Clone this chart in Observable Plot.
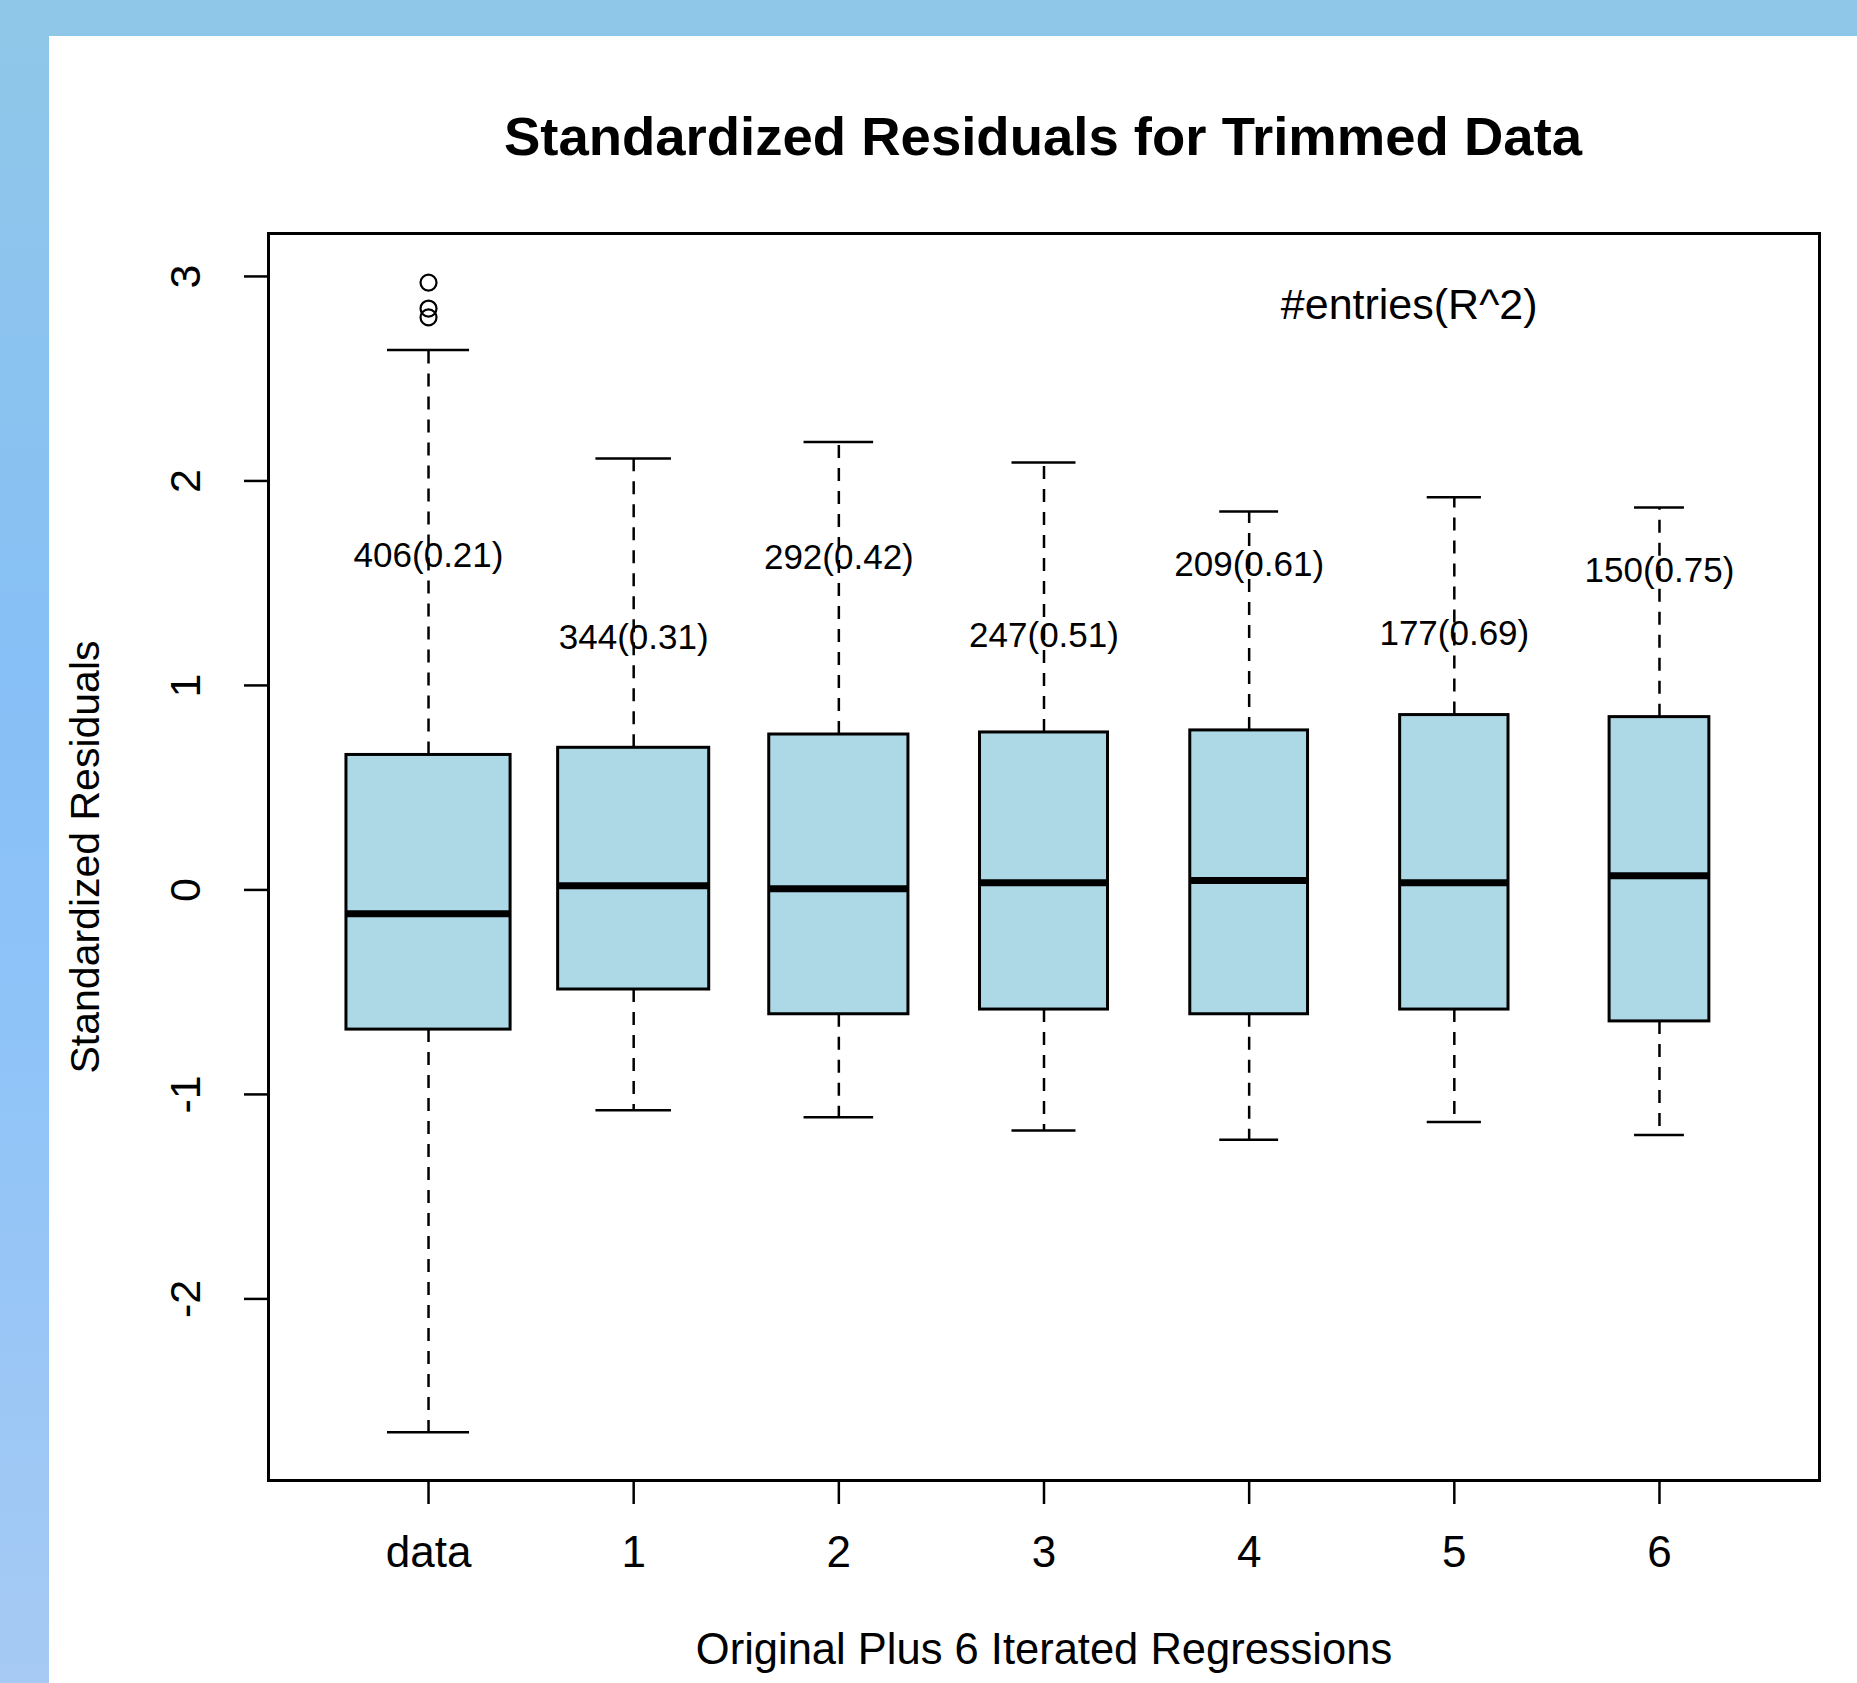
<!DOCTYPE html>
<html>
<head>
<meta charset="utf-8">
<script src="https://cdn.jsdelivr.net/npm/d3@7"></script>
<script src="https://cdn.jsdelivr.net/npm/@observablehq/plot@0.6"></script>
<style>
  html, body { margin: 0; padding: 0; }
  body {
    width: 1857px; height: 1683px; overflow: hidden; position: relative;
    background: linear-gradient(to bottom, #8fc7e8 0%, #87c0f6 40%, #8ec3f8 60%, #a6caf3 100%);
    font-family: "Liberation Sans", Arial, sans-serif;
  }
  #panel {
    position: absolute; left: 49px; top: 36px; width: 1808px; height: 1647px;
    background: #ffffff;
  }
  #title {
    position: absolute; left: 0; top: 0; width: 1988px;
    padding-top: 74px; height: 56px; line-height: 54px;
    font-size: 54.5px; font-weight: bold; color: #000;
    text-align: center; white-space: nowrap;
  }
  #chart { position: absolute; left: 0; top: 130px; }
</style>
</head>
<body>
<div id="panel">
  <div id="title"></div>
  <div id="chart"></div>
</div>
<script>
// ---- data ----
const titleText = "Standardized Residuals for Trimmed Data";
const xLabel = "Original Plus 6 Iterated Regressions";
const yLabel = "Standardized Residuals";
const noteText = "#entries(R^2)";

const categories = ["data", "1", "2", "3", "4", "5", "6"];
const counts = [406, 344, 292, 247, 209, 177, 150];
const rsq = [0.21, 0.31, 0.42, 0.51, 0.61, 0.69, 0.75];
const upperWhisker = [2.64, 2.11, 2.19, 2.09, 1.85, 1.92, 1.87];
const q3 = [0.66, 0.695, 0.76, 0.77, 0.78, 0.855, 0.845];
const medians = [-0.116, 0.02, 0.006, 0.035, 0.046, 0.035, 0.069];
const q1 = [-0.683, -0.487, -0.608, -0.585, -0.608, -0.585, -0.643];
const lowerWhisker = [-2.652, -1.077, -1.112, -1.176, -1.222, -1.135, -1.199];
const outlierGroup = [1, 1, 1];
const outlierValues = [2.97, 2.843, 2.8];
const labelY = [1.632, 1.232, 1.622, 1.241, 1.588, 1.251, 1.559];
const noteX = 5.78;
const noteY = 2.86;
const yTicks = [-2, -1, 0, 1, 2, 3];

// ---- build table ----
const maxN = d3.max(counts);
const boxes = categories.map((c, i) => {
  const pos = i + 1;
  const w = 0.8 * Math.sqrt(counts[i] / maxN); // varwidth box
  return {
    cat: c, pos, w,
    x1: pos - w / 2, x2: pos + w / 2,
    cx1: pos - w / 4, cx2: pos + w / 4,
    lo: lowerWhisker[i], q1: q1[i], med: medians[i], q3: q3[i], hi: upperWhisker[i],
    label: `${counts[i]}(${rsq[i].toFixed(2)})`, ly: labelY[i]
  };
});
const outliers = outlierValues.map((v, i) => ({pos: outlierGroup[i], v}));

document.getElementById("title").textContent = titleText;

const W = 1808, H = 1517;
const chart = Plot.plot({
  width: W, height: H,
  marginLeft: 219, marginRight: 38, marginTop: 67, marginBottom: 203,
  style: {fontFamily: "'Liberation Sans', Arial, sans-serif", fontSize: "43px", color: "#000", background: "transparent"},
  x: {type: "linear", domain: [0.22, 7.78]},
  y: {type: "linear", domain: [-2.888, 3.21]},
  marks: [
    // whiskers (dashed)
    Plot.ruleX(boxes, {x: "pos", y1: "q3", y2: "hi", stroke: "#000", strokeWidth: 2.5, strokeDasharray: "13,10"}),
    Plot.ruleX(boxes, {x: "pos", y1: "q1", y2: "lo", stroke: "#000", strokeWidth: 2.5, strokeDasharray: "13,10"}),
    // whisker caps
    Plot.ruleY(boxes, {y: "hi", x1: "cx1", x2: "cx2", stroke: "#000", strokeWidth: 2.5}),
    Plot.ruleY(boxes, {y: "lo", x1: "cx1", x2: "cx2", stroke: "#000", strokeWidth: 2.5}),
    // boxes
    Plot.rect(boxes, {x1: "x1", x2: "x2", y1: "q1", y2: "q3", fill: "#ADD8E6", stroke: "#000", strokeWidth: 3}),
    // medians
    Plot.ruleY(boxes, {y: "med", x1: "x1", x2: "x2", stroke: "#000", strokeWidth: 7}),
    // outliers
    Plot.dot(outliers, {x: "pos", y: "v", r: 8, stroke: "#000", strokeWidth: 2.2, fill: "none"}),
    // annotation labels
    Plot.text(boxes, {x: "pos", y: "ly", text: "label", fontSize: 35, fill: "#000", lineAnchor: "middle"}),
    Plot.text([noteText], {x: () => noteX, y: () => noteY, text: d => d, fontSize: 43, fill: "#000", lineAnchor: "middle"}),
    // frame
    Plot.frame({stroke: "#000", strokeWidth: 3}),
    // axes
    Plot.axisX({ticks: boxes.map(d => d.pos), tickFormat: p => categories[p - 1], tickSize: 24, tickPadding: 31, strokeWidth: 2.5, fontSize: 44, label: null}),
    Plot.axisY({ticks: yTicks, tickSize: 24, tickFormat: () => "", strokeWidth: 2.5, label: null}),
    Plot.text(yTicks, {y: d => d, text: d => String(d), frameAnchor: "left", dx: -82, rotate: -90, textAnchor: "middle", lineAnchor: "middle", fontSize: 43, fill: "#000"}),
    // axis titles
    Plot.text([xLabel], {text: d => d, frameAnchor: "bottom", dy: 170, textAnchor: "middle", lineAnchor: "middle", fontSize: 43.5, fill: "#000"}),
    Plot.text([yLabel], {text: d => d, frameAnchor: "left", dx: -183, rotate: -90, textAnchor: "middle", lineAnchor: "middle", fontSize: 41, fill: "#000"})
  ]
});
document.getElementById("chart").appendChild(chart);
</script>
</body>
</html>
